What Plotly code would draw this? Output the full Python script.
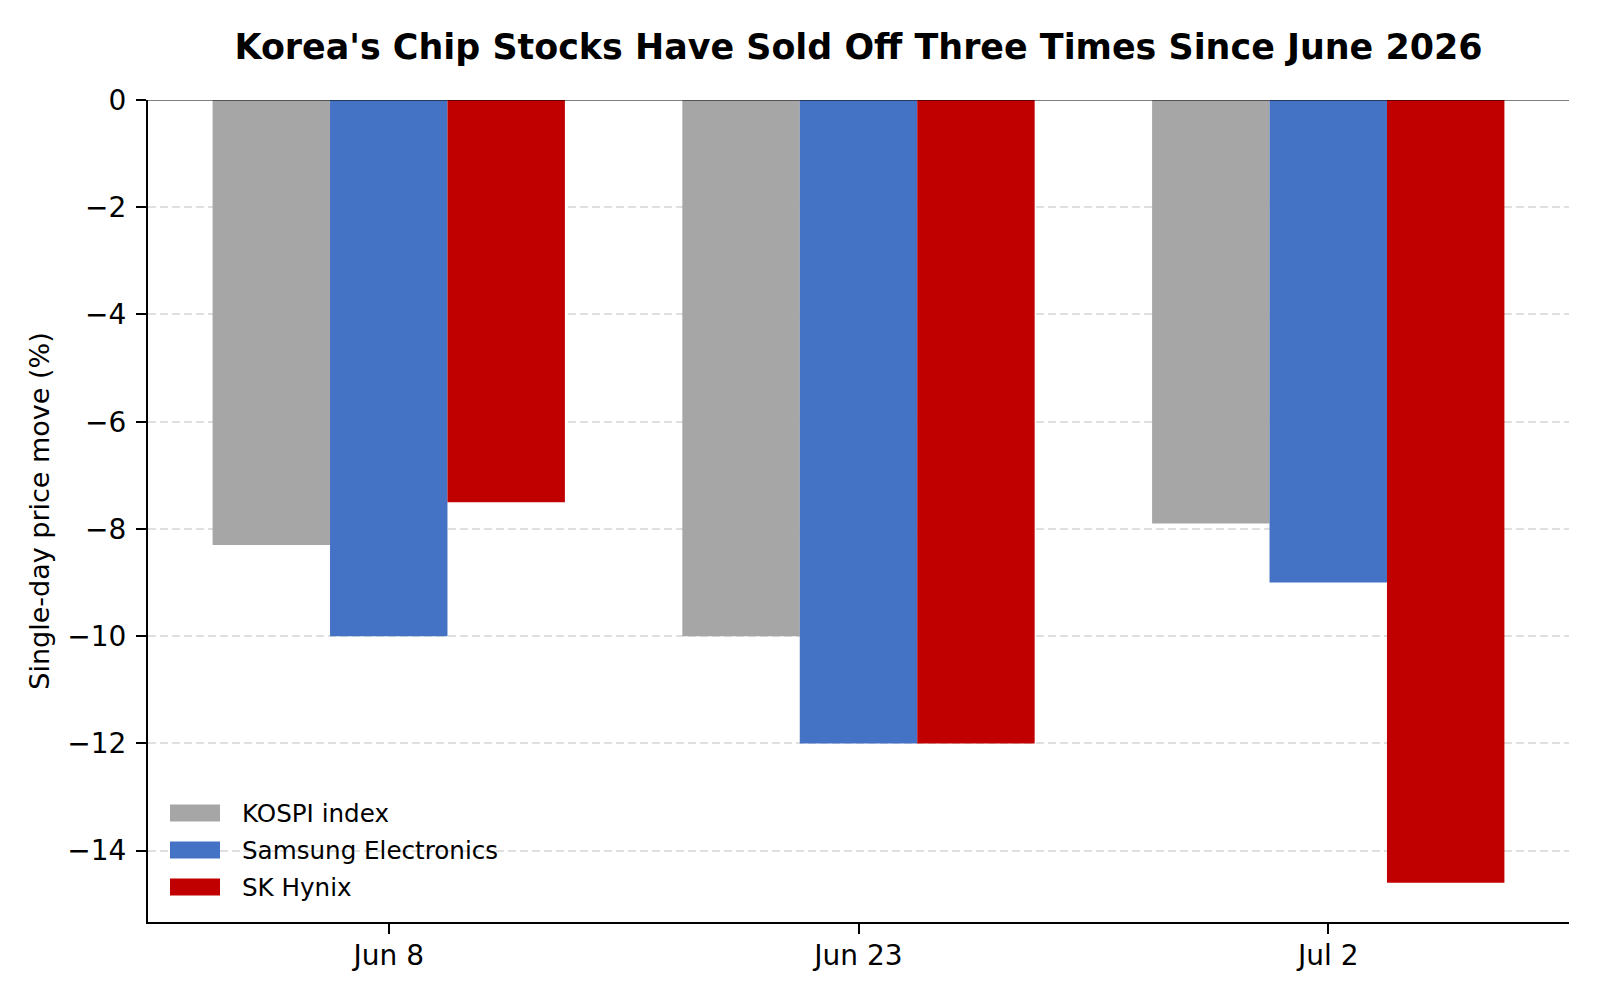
import plotly.graph_objects as go

dates = ["Jun 8", "Jun 23", "Jul 2"]
series_names = ["KOSPI index", "Samsung Electronics", "SK Hynix"]
kospi = [-8.3, -10.0, -7.9]
samsung = [-10.0, -12.0, -9.0]
hynix = [-7.5, -12.0, -14.6]
colors = ["#A6A6A6", "#4472C4", "#C00000"]
y_ticks = [0, -2, -4, -6, -8, -10, -12, -14]

FONT = "DejaVu Sans"
fig = go.Figure()
for name, vals, col in zip(series_names, [kospi, samsung, hynix], colors):
    fig.add_trace(go.Bar(x=dates, y=vals, name=name, marker=dict(color=col, line=dict(width=0)),
                         showlegend=False))

fig.update_layout(
    width=1600, height=1000,
    margin=dict(l=148, r=31, t=100, b=78),
    paper_bgcolor="white", plot_bgcolor="white",
    barmode="group", bargap=0.25, bargroupgap=0,
    font=dict(family=FONT, color="black", size=28),
    title=dict(text="<b>Korea's Chip Stocks Have Sold Off Three Times Since June 2026</b>",
               x=(148 + 1569) / 2 / 1600, xanchor="center", xref="container",
               y=1 - 47 / 1000, yanchor="middle", yref="container",
               font=dict(family=FONT, size=34.9, color="black")),
    xaxis=dict(range=[-0.5125, 2.5125], showline=True, linecolor="black", linewidth=2,
               ticks="outside", ticklen=10, tickwidth=2, tickcolor="black",
               showgrid=False, zeroline=False, tickfont=dict(size=28), ticklabelstandoff=-3),
    yaxis=dict(range=[-15.33, 0], tickvals=y_ticks, showline=True, linecolor="black", linewidth=2,
               ticks="outside", ticklen=10, tickwidth=2, tickcolor="black",
               showgrid=True, gridcolor="rgba(176,176,176,0.4)", griddash="8px,4px", gridwidth=1.5,
               zeroline=False, layer="above traces", ticklabelstandoff=4,
               title=dict(text="Single-day price move (%)", font=dict(size=27), standoff=10),
               tickfont=dict(size=28)),
)

# horizontal reference line at zero
fig.add_hline(y=0, line=dict(color="black", width=1.2))

# legend drawn manually (matplotlib-style wide patches)
leg_x0, leg_x1, text_x = 170, 220, 240
leg_y = [813, 850, 887]
for name, col, yc in zip(series_names, colors, leg_y):
    fig.add_shape(type="rect", xref="paper", yref="paper",
                  x0=(leg_x0 - 148) / (1569 - 148), x1=(leg_x1 - 148) / (1569 - 148),
                  y0=(922 - (yc + 8.5)) / 822, y1=(922 - (yc - 8.5)) / 822,
                  fillcolor=col, line=dict(width=0), layer="above")
    fig.add_annotation(text=name, xref="paper", yref="paper",
                       x=(text_x - 148) / (1569 - 148), y=(922 - yc) / 822,
                       xanchor="left", yanchor="middle", showarrow=False,
                       font=dict(family=FONT, size=24.6, color="black"))

fig.write_html("out.html")
